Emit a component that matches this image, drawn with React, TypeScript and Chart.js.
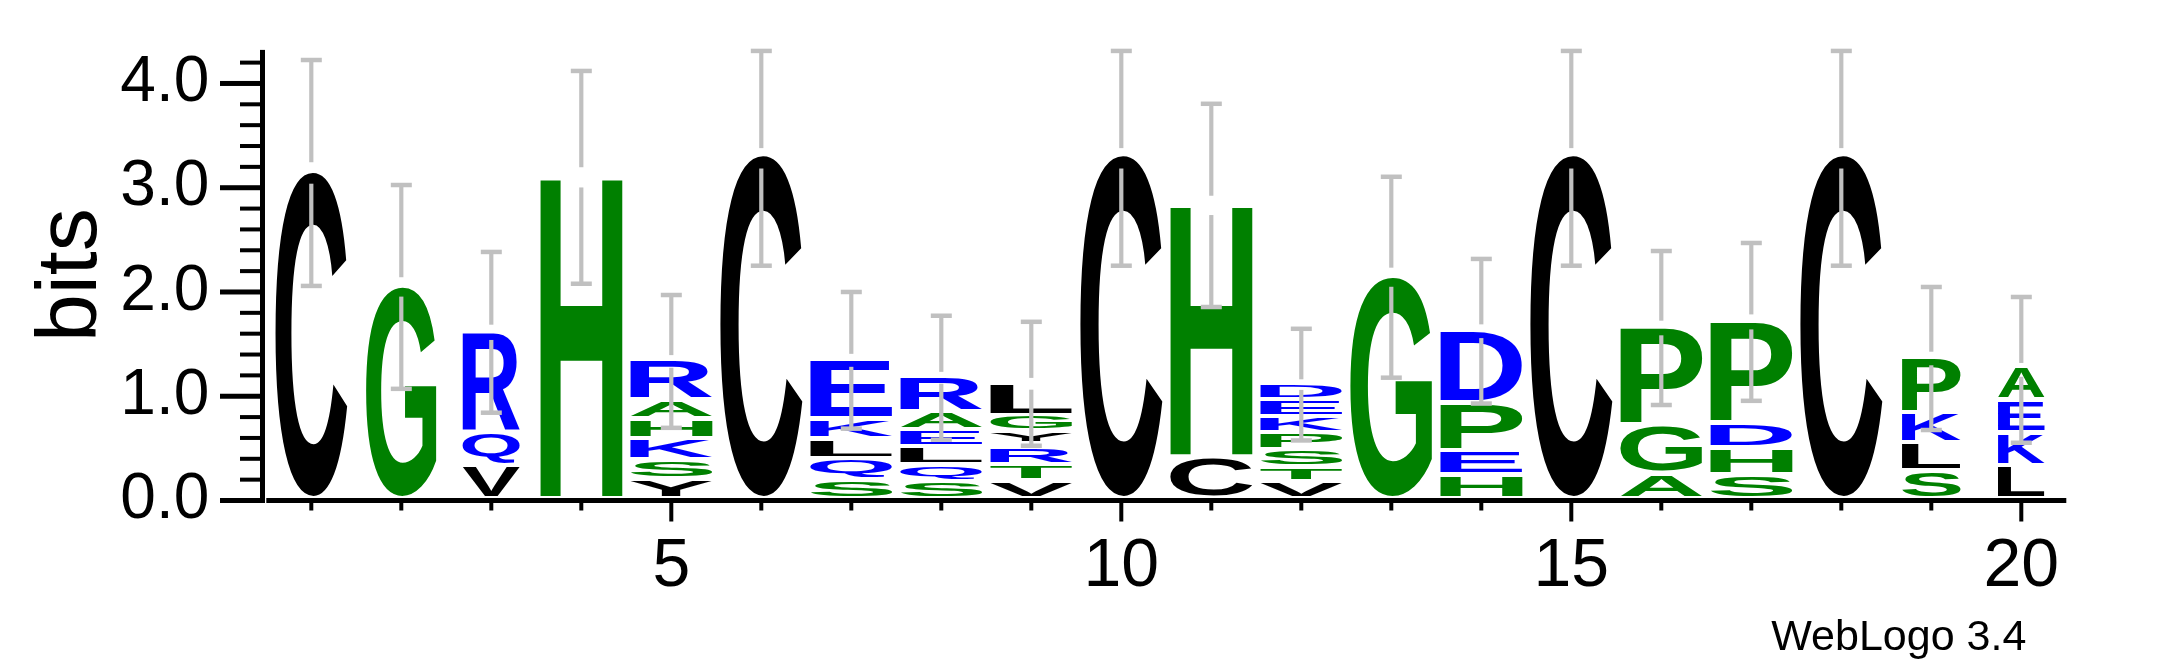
import React, { useEffect, useRef } from 'react';
import { Chart, registerables } from 'chart.js';

Chart.register(...registerables);

const POSITIONS = [1, 2, 3, 4, 5, 6, 7, 8, 9, 10, 11, 12, 13, 14, 15, 16, 17, 18, 19, 20];
const X_TICK_LABELS = [5, 10, 15, 20];
const Y_TICK_LABELS = [0, 1, 2, 3, 4];
const Y_MAX = 4.3219; // log2(20)
const Y_TITLE = 'bits';
const FOOTER = 'WebLogo 3.4';

// letters of each stack, bottom -> top
const STACK_LETTERS: string[][] = [
  ['C'],
  ['G'],
  ['V', 'Q', 'R'],
  ['H'],
  ['Y', 'S', 'K', 'H', 'A', 'R'],
  ['C'],
  ['S', 'Q', 'L', 'K', 'E'],
  ['S', 'Q', 'L', 'E', 'A', 'R'],
  ['V', 'T', 'R', 'I', 'Y', 'G', 'L'],
  ['C'],
  ['C', 'H'],
  ['V', 'T', 'S', 'P', 'K', 'E', 'D'],
  ['G'],
  ['H', 'E', 'P', 'D'],
  ['C'],
  ['A', 'G', 'P'],
  ['S', 'H', 'D', 'P'],
  ['C'],
  ['S', 'L', 'K', 'P'],
  ['L', 'K', 'E', 'A'],
];

// height (bits) of each letter, bottom -> top
const STACK_HEIGHTS: number[][] = [
  [3.149],
  [2.046],
  [0.329, 0.311, 0.974],
  [3.101],
  [0.192, 0.182, 0.202, 0.191, 0.183, 0.383],
  [3.309],
  [0.182, 0.202, 0.192, 0.191, 0.576],
  [0.170, 0.156, 0.176, 0.163, 0.172, 0.336],
  [0.170, 0.156, 0.160, 0.042, 0.118, 0.153, 0.314],
  [3.309],
  [0.400, 2.430],
  [0.160, 0.144, 0.169, 0.160, 0.156, 0.164, 0.150],
  [2.140],
  [0.230, 0.233, 0.458, 0.693],
  [3.309],
  [0.240, 0.470, 0.952],
  [0.230, 0.256, 0.243, 0.981],
  [3.309],
  [0.266, 0.271, 0.285, 0.543],
  [0.319, 0.314, 0.310, 0.320],
];

const ERR_HIGH = [4.225, 3.026, 2.384, 4.120, 1.971, 4.312, 2.000, 1.772, 1.714, 4.312, 3.805, 1.647, 3.105, 2.317, 4.312, 2.393, 2.470, 4.312, 2.048, 1.952];
const ERR_LOW = [2.058, 1.071, 0.842, 2.079, 0.697, 2.252, 0.689, 0.583, 0.525, 2.252, 1.856, 0.576, 1.178, 0.930, 2.252, 0.916, 0.956, 2.252, 0.676, 0.554];
// fraction of non-gap symbols in the column (stack width scaling)
const COLUMN_FRACTION = [0.875, 0.86, 0.70, 1, 1, 1, 1, 1, 1, 1, 1, 1, 1, 1, 1, 1, 1, 1, 0.716, 0.57];

// ---- styles ----
const BLACK = '#000000';
const GREEN = '#008000';
const BLUE = '#0000ff';
const LETTER_COLORS: Record<string, string> = {
  C: BLACK, V: BLACK, Y: BLACK, L: BLACK, I: BLACK,
  G: GREEN, H: GREEN, A: GREEN, S: GREEN, T: GREEN, P: GREEN,
  R: BLUE, Q: BLUE, K: BLUE, E: BLUE, D: BLUE,
};
const FONT_FAMILY = '"Liberation Sans", Arial, Helvetica, sans-serif';
const ERR_COLOR = '#c0c0c0';
const LETTER_GAP = 4.5;

const logoPlugin = {
  id: 'logoPlugin',
  afterDraw(chart: any) {
    const ctx: CanvasRenderingContext2D = chart.ctx;
    const xs = chart.scales.x;
    const ys = chart.scales.y;
    const area = chart.chartArea;
    ctx.save();

    // axes lines
    ctx.fillStyle = BLACK;
    const y0 = ys.getPixelForValue(0);
    const yTop = ys.getPixelForValue(Y_MAX);
    const axisX = area.left - 3.8;
    ctx.fillRect(axisX - 2.5, yTop, 5, y0 + 2.5 - yTop);
    ctx.fillRect(area.left, y0 - 2.5, area.right - area.left, 5);

    // y tick marks (every 0.2 bits, major at integers)
    for (let k = 0; k * 0.2 <= Y_MAX + 1e-9; k++) {
      const py = ys.getPixelForValue(k * 0.2);
      const major = k % 5 === 0;
      const len = major ? 42.5 : 22.5;
      const th = major ? 5 : 4;
      ctx.fillRect(axisX - len, py - th / 2, len, th);
    }
    // x tick marks
    POSITIONS.forEach((p) => {
      const px = xs.getPixelForValue(p);
      const major = X_TICK_LABELS.includes(p);
      ctx.fillRect(px - 2, y0, 4, major ? 21 : 10);
    });

    // letters
    const step = xs.getPixelForValue(1) - xs.getPixelForValue(0);
    ctx.font = 'bold 200px ' + FONT_FAMILY;
    ctx.textAlign = 'left';
    ctx.textBaseline = 'alphabetic';
    POSITIONS.forEach((p, i) => {
      const cx = xs.getPixelForValue(p);
      const half = step * 0.4556 * COLUMN_FRACTION[i];
      let cum = 0;
      STACK_LETTERS[i].forEach((L, j) => {
        const h = STACK_HEIGHTS[i][j];
        const yb = ys.getPixelForValue(cum) - LETTER_GAP;
        const yt = ys.getPixelForValue(cum + h);
        cum += h;
        const inkH = yb - yt;
        if (inkH < 0.3) return;
        const m = ctx.measureText(L);
        const iw = m.actualBoundingBoxLeft + m.actualBoundingBoxRight;
        const ih = m.actualBoundingBoxAscent + m.actualBoundingBoxDescent;
        ctx.save();
        ctx.translate(cx - half, yt);
        ctx.scale((2 * half) / iw, inkH / ih);
        ctx.fillStyle = LETTER_COLORS[L] || BLACK;
        ctx.fillText(L, m.actualBoundingBoxLeft, m.actualBoundingBoxAscent);
        ctx.restore();
      });
    });

    // error bars
    ctx.fillStyle = ERR_COLOR;
    POSITIONS.forEach((p, i) => {
      const cx = xs.getPixelForValue(p);
      const pt = ys.getPixelForValue(ERR_HIGH[i]);
      const pb = ys.getPixelForValue(ERR_LOW[i]);
      const pc = (pt + pb) / 2;
      const gap = 0.095 * ((pb - pt) / 2);
      ctx.fillRect(cx - 2.1, pt, 4.2, pc - gap - pt);
      ctx.fillRect(cx - 2.1, pc + gap, 4.2, pb - pc - gap);
      ctx.fillRect(cx - 10.5, pt - 2.25, 21, 4.5);
      ctx.fillRect(cx - 10.5, pb - 2.25, 21, 4.5);
    });

    // footer text
    ctx.fillStyle = BLACK;
    ctx.font = '43px ' + FONT_FAMILY;
    ctx.textAlign = 'right';
    ctx.textBaseline = 'alphabetic';
    ctx.fillText(FOOTER, area.right - 40, chart.height - 17);

    ctx.restore();
  },
};

export default function App() {
  const ref = useRef<HTMLCanvasElement>(null);
  useEffect(() => {
    const canvas = ref.current;
    if (!canvas) return;
    const totals = STACK_HEIGHTS.map((hs) => hs.reduce((a, b) => a + b, 0));
    const chart = new Chart(canvas, {
      type: 'scatter',
      data: {
        datasets: [
          {
            data: POSITIONS.map((p, i) => ({ x: p, y: totals[i] })),
            pointRadius: 0,
            pointHoverRadius: 0,
            showLine: false,
          },
        ],
      },
      options: {
        responsive: false,
        animation: false,
        devicePixelRatio: 1,
        events: [],
        layout: { padding: { left: 0, top: 49.9, right: 100.7, bottom: 0 } },
        plugins: { legend: { display: false }, tooltip: { enabled: false } },
        scales: {
          x: {
            type: 'linear',
            min: 0.5,
            max: 20.5,
            grid: { display: false },
            border: { display: false },
            afterBuildTicks: (s: any) => {
              s.ticks = X_TICK_LABELS.map((v) => ({ value: v }));
            },
            afterFit: (s: any) => {
              s.height = 166.5;
              s.paddingLeft = 0;
              s.paddingRight = 0;
            },
            ticks: {
              autoSkip: false,
              maxRotation: 0,
              minRotation: 0,
              padding: 18,
              color: BLACK,
              font: { family: FONT_FAMILY, size: 68 },
              callback: (v: any) => String(v),
            },
          },
          y: {
            type: 'linear',
            min: 0,
            max: Y_MAX,
            grid: { display: false },
            border: { display: false },
            afterBuildTicks: (s: any) => {
              s.ticks = Y_TICK_LABELS.map((v) => ({ value: v }));
            },
            afterFit: (s: any) => {
              s.width = 266.3;
              s.paddingTop = 0;
              s.paddingBottom = 0;
            },
            ticks: {
              padding: 49,
              color: BLACK,
              font: { family: FONT_FAMILY, size: 64 },
              callback: (v: any) => Number(v).toFixed(1),
            },
            title: {
              display: true,
              text: Y_TITLE,
              color: BLACK,
              font: { family: FONT_FAMILY, size: 86 },
              padding: { top: 21, bottom: 0 },
            },
          },
        },
      },
      plugins: [logoPlugin],
    });
    return () => chart.destroy();
  }, []);

  return (
    <div style={{ position: 'fixed', left: 0, top: 0, width: 2167, height: 667, background: '#ffffff' }}>
      <canvas ref={ref} width={2167} height={667} style={{ display: 'block', width: 2167, height: 667 }} />
    </div>
  );
}
